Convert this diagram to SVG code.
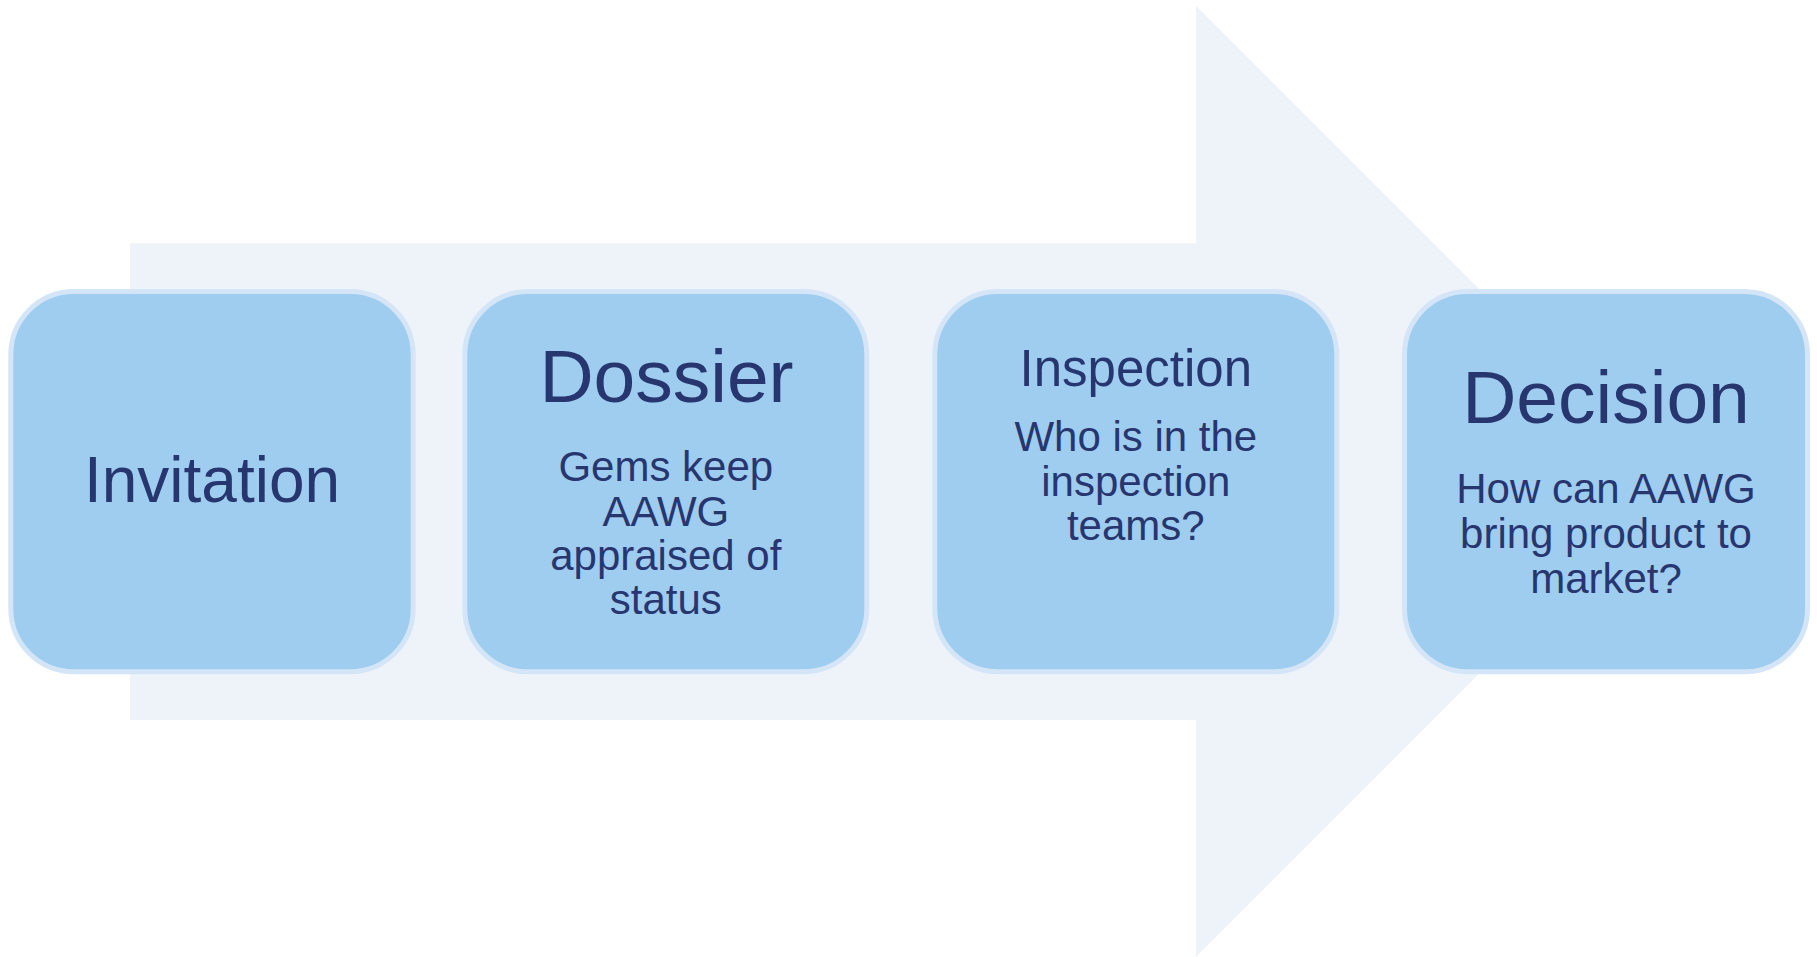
<svg xmlns="http://www.w3.org/2000/svg" width="1817" height="957" viewBox="0 0 1817 957">
<style>
.box{fill:#9ECDF0;stroke:#D5E5F8;stroke-width:5}
.t{font-family:"Liberation Sans",Arial,sans-serif;fill:#28366F;text-anchor:middle}
.big{font-size:75px}
.mid{font-size:51px}
.sub{font-size:42px}
</style>
<rect width="1817" height="957" fill="#FFFFFF"/>
<g id="arrow">
<polygon points="130,243.3 1196,243.3 1196,5.7 1671.5,481.2 1196,956.7 1196,720 130,720" fill="#EEF3FA"/>
</g>
<g id="connectors"></g>
<g id="node-invitation">
<rect class="box" x="10.8" y="291.5" width="402.4" height="380.3" rx="63" ry="63"/>
<text class="t" x="212" y="501.7" style="font-size:64px">Invitation</text>
</g>
<g id="node-dossier">
<rect class="box" x="464.8" y="291.5" width="402" height="380.3" rx="63" ry="63"/>
<text class="t big" x="666.5" y="401.7">Dossier</text>
<text class="t sub" x="665.8" y="480.7">Gems keep</text>
<text class="t sub" x="665.8" y="525.7">AAWG</text>
<text class="t sub" x="665.8" y="570">appraised of</text>
<text class="t sub" x="665.8" y="614">status</text>
</g>
<g id="node-inspection">
<rect class="box" x="934.8" y="291.5" width="402" height="380.3" rx="63" ry="63"/>
<text class="t mid" x="1135.8" y="386">Inspection</text>
<text class="t sub" x="1135.8" y="451">Who is in the</text>
<text class="t sub" x="1135.8" y="495.7">inspection</text>
<text class="t sub" x="1135.8" y="540">teams?</text>
</g>
<g id="node-decision">
<rect class="box" x="1404.5" y="291.5" width="403" height="380.3" rx="63" ry="63"/>
<text class="t big" x="1606" y="423.3">Decision</text>
<text class="t sub" x="1606" y="503.3">How can AAWG</text>
<text class="t sub" x="1606" y="548.3">bring product to</text>
<text class="t sub" x="1606" y="592.7">market?</text>
</g>
</svg>
